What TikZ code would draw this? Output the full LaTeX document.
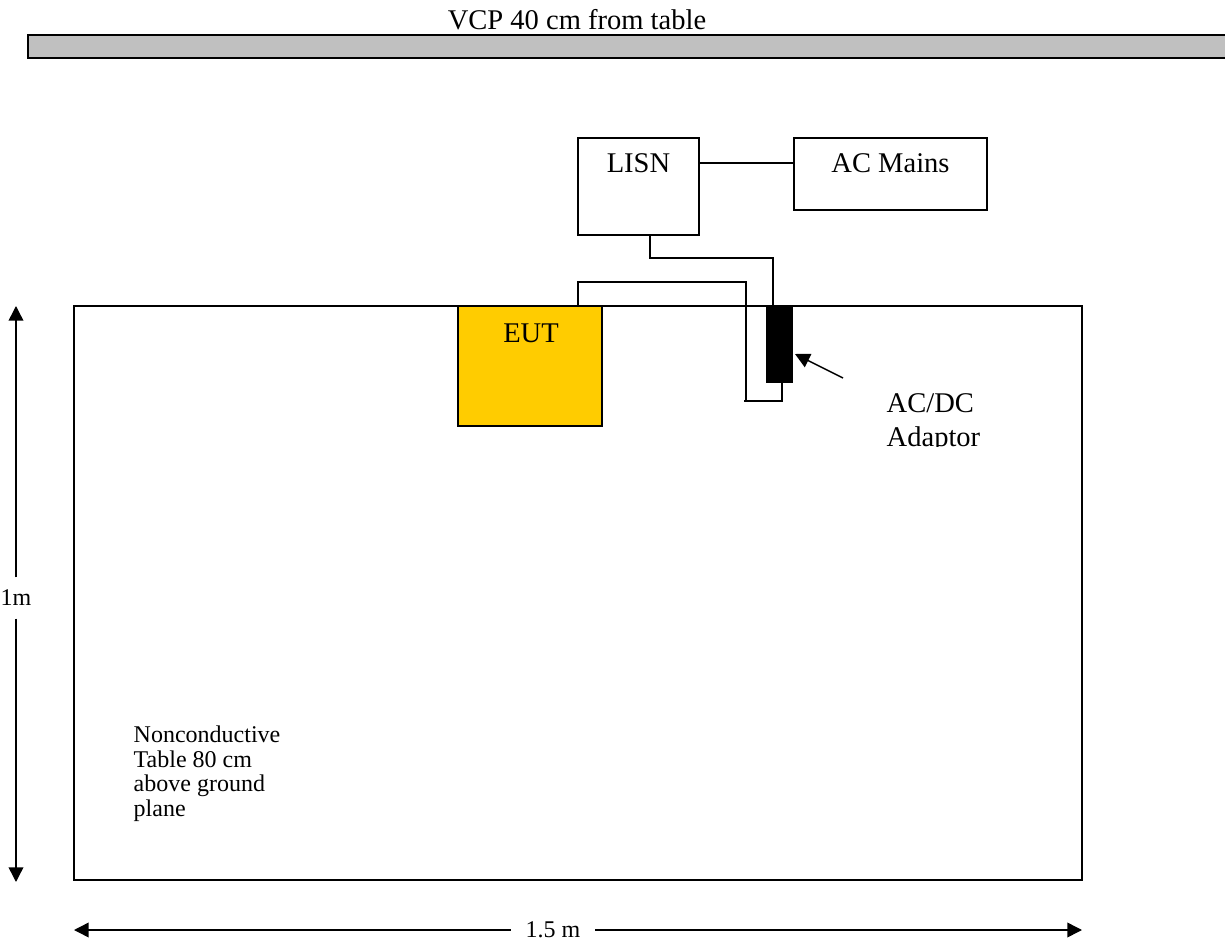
\documentclass[tikz,border=0pt]{standalone}
\usepackage{fontspec}
\setmainfont{Liberation Serif}
\usetikzlibrary{arrows.meta,calc}
\definecolor{vcpgray}{HTML}{C0C0C0}
\definecolor{eutyellow}{HTML}{FFCC00}
\tikzset{mytip/.tip={Triangle[length=11pt,width=11pt]}}
\begin{document}
\begin{tikzpicture}[x=0.75pt,y=-0.75pt,
  line width=1.1pt,
  box/.style={draw, line width=1.1pt, inner sep=0pt, outer sep=0pt},
  wire/.style={line width=1.1pt},
  big/.style={font=\fontsize{21.4pt}{24pt}\selectfont, inner sep=0pt},
  small/.style={font=\fontsize{18pt}{18.4pt}\selectfont, inner sep=0pt},
  dimline/.style={line width=1.1pt}]
\useasboundingbox (0,0) rectangle (1225,941);
% VCP bar
\fill[vcpgray] (28,35) rectangle (1240,58);
\draw[line width=1.6pt] (1240,35) -- (28,35) -- (28,58) -- (1240,58);
\node[big, anchor=base] (vcp) at (577,30) {VCP 40 cm from table};
% boxes
\node[box, minimum width=90.75pt, minimum height=72.75pt] (lisn) at (638.5,186.5) {};
\node[box, minimum width=144.75pt, minimum height=54pt] (mains) at (890.5,174) {};
\node[big, anchor=base] (lisntxt) at (638.5,173) {LISN};
\node[big, anchor=base] (mainstxt) at (890.5,173) {AC Mains};
\node[box, line width=1.3pt, minimum width=756pt, minimum height=430.5pt] (table) at (578,593) {};
\node[box, fill=eutyellow, minimum width=108pt, minimum height=90pt] (eut) at (530,366) {};
\node[big, anchor=base] (euttxt) at (531,343) {EUT};
\node[box, fill=black, minimum width=18.75pt, minimum height=55.5pt] (adaptor) at (779.5,345) {};
% wires
\draw[wire] ($(lisn.north east)+(0,25)$) -- ($(mains.north west)+(0,25)$);
\draw[wire] ($(lisn.south)+(11.5,0)$) |- ($(adaptor.north)+(-6.5,-50)$) -- ($(adaptor.north)+(-6.5,0)$);
\coordinate (e1) at ($(eut.north)+(48,0)$);
\coordinate (e2) at (746,282);
\coordinate (e3) at (744,401);
\draw[wire] (e1) |- (e2) -- (e2 |- e3);
\draw[wire] (e3) -| ($(adaptor.south)+(2.5,0)$);
% adaptor label and arrow
\coordinate (arrtail) at (843,378);
\draw[wire, -mytip] (arrtail) -- ($(adaptor.east)+(3,9)$);
\node[big, anchor=base west] (acdc) at (886,412) {AC/DC};
\begin{scope}
\clip (880,420) rectangle (1000,446);
\node[big, anchor=base west] (adtxt) at (886,446) {Adaptor};
\end{scope}
% table label
\node[small, anchor=base west] (nc1) at (133,742) {Nonconductive};
\node[small, anchor=base west] (nc2) at (133,767) {Table 80 cm};
\node[small, anchor=base west] (nc3) at (133,791) {above ground};
\node[small, anchor=base west] (nc4) at (133,816) {plane};
% dimensions
\coordinate (v1) at (16,306);
\coordinate (v2) at (16,882);
\node[small, minimum height=30pt] (onem) at (16,598) {1m};
\draw[dimline, -mytip] (onem.north) -- (v1);
\draw[dimline, -mytip] (onem.south) -- (v2);
\coordinate (h1) at (74,930);
\coordinate (h2) at (1082,930);
\node[small, minimum width=62pt] (onefive) at (553,930) {1.5 m};
\draw[dimline, -mytip] (onefive.west) -- (h1);
\draw[dimline, -mytip] (onefive.east) -- (h2);
\end{tikzpicture}
\end{document}
